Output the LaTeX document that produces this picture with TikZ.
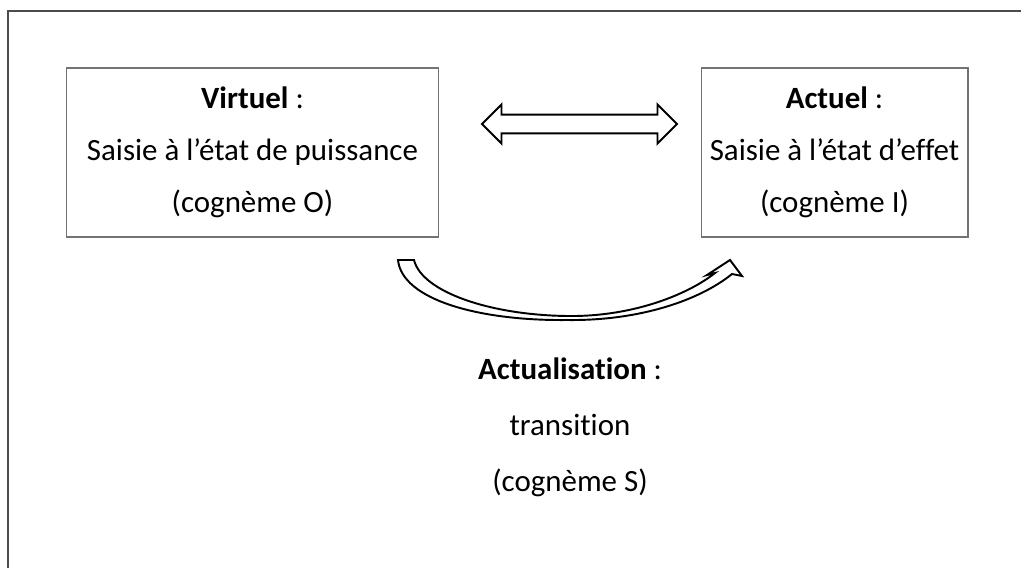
\documentclass[tikz,border=0pt]{standalone}
\usepackage{fontspec}
\setmainfont{Carlito}[Ligatures=NoCommon]
\usetikzlibrary{arrows.meta,shapes.arrows,positioning}

\begin{document}
\begin{tikzpicture}[x=0.02cm, y=-0.02cm,
    box/.style={draw=black!55, line width=0.6pt, minimum height=3.38cm, align=center, font=\fontsize{17.6}{29.6}\selectfont},
    dblarr/.style={double arrow, draw, line width=1.1pt, fill=white, minimum height=3.9cm, inner xsep=0pt, inner ysep=0.17cm, double arrow head extend=0.2cm},
    blk/.style={draw, line width=1.1pt, fill=white, line join=miter},
    lbl/.style={align=center, font=\fontsize{17.6}{31.9}\selectfont}
]
\useasboundingbox (0,0) rectangle (1021,568);
% cadre
\draw[black!70, line width=0.9pt] (8,568) |- (1021,11);

\node[box, minimum width=7.46cm] (virt) at (252.5,152.5) {\textbf{Virtuel} :\\Saisie à l’état de puissance\\(cognème O)};
\node[box, minimum width=5.34cm] (act) at (834.5,152.5) {\textbf{Actuel} :\\Saisie à l’état d’effet\\(cognème I)};
\node[dblarr] (lien) at (579.5,124) {};

\node[lbl] (trans) at (570,427) {\textbf{Actualisation} :\\transition\\(cognème S)};

% fleche courbe
\draw[blk] (398,260) -- (414,260)
    .. controls (422,292) and (490,315) .. (567,316)
    .. controls (635,317) and (690,293) .. (715,273)
    -- (707,275) -- (730,260) -- (742,276) -- (732,274)
    .. controls (700,300) and (640,321) .. (567,320)
    .. controls (480,321) and (402,300) .. (398,260) -- cycle;
\end{tikzpicture}
\end{document}
